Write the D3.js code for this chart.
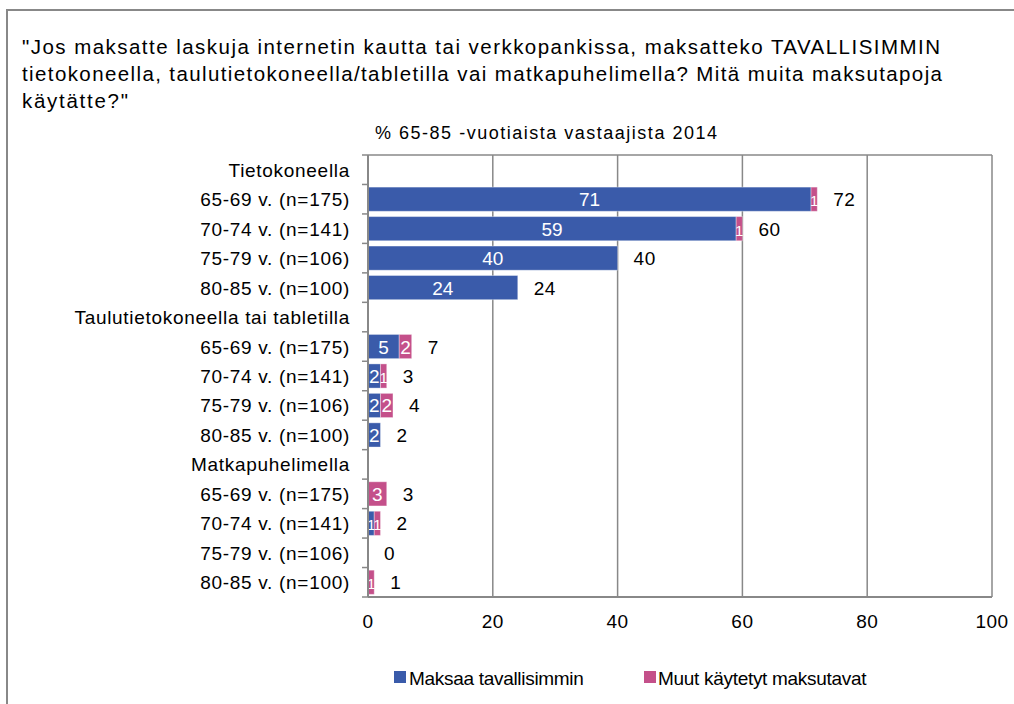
<!DOCTYPE html>
<html><head><meta charset="utf-8">
<script src="https://cdn.jsdelivr.net/npm/d3@7"></script>
<style>
body{margin:0;background:#fff;}
text{font-family:"Liberation Sans",Arial,sans-serif;}
</style></head>
<body>
<svg id="c" width="1014" height="704"></svg>
<script>
const titleLines = ["\"Jos maksatte laskuja internetin kautta tai verkkopankissa, maksatteko TAVALLISIMMIN",
  "tietokoneella, taulutietokoneella/tabletilla vai matkapuhelimella? Mitä muita maksutapoja",
  "käytätte?\""];
const subtitle = "% 65-85 -vuotiaista vastaajista 2014";
const categories = ["Tietokoneella","65-69 v. (n=175)","70-74 v. (n=141)","75-79 v. (n=106)","80-85 v. (n=100)",
  "Taulutietokoneella tai tabletilla","65-69 v. (n=175)","70-74 v. (n=141)","75-79 v. (n=106)","80-85 v. (n=100)",
  "Matkapuhelimella","65-69 v. (n=175)","70-74 v. (n=141)","75-79 v. (n=106)","80-85 v. (n=100)"];
const isHeader = [true,false,false,false,false,true,false,false,false,false,true,false,false,false,false];
const maksaa = [null,71,59,40,24,null,5,2,2,2,null,0,1,0,0];
const muut   = [null,1,1,0,0,null,2,1,2,0,null,3,1,0,1];
const totals = [null,72,60,40,24,null,7,3,4,2,null,3,2,0,1];
const xTicks = [0,20,40,60,80,100];
const seriesNames = ["Maksaa tavallisimmin","Muut käytetyt maksutavat"];
const colors = ["#3A5BAA","#C4508A"];

const svg = d3.select("#c");
svg.append("path").attr("d","M7,1400 V10 H1100").attr("fill","none").attr("stroke","#888").attr("stroke-width",2);

const tl = [[22,54,918],[22,81,920],[22,108,106]];
titleLines.forEach((t,i)=>{
  svg.append("text").attr("x",tl[i][0]).attr("y",tl[i][1]).attr("font-size",20.5)
    .attr("textLength",tl[i][2]).attr("lengthAdjust","spacing").attr("fill","#000").text(t);
});
svg.append("text").attr("x",546).attr("y",139).attr("text-anchor","middle").attr("font-size",18)
  .attr("textLength",342).attr("lengthAdjust","spacing").text(subtitle);

const L=368, R=992, T=155, B=597;
const x = d3.scaleLinear().domain([0,100]).range([L,R]);
const y = d3.scaleBand().domain(d3.range(categories.length)).range([T,B]).paddingInner(0.18).paddingOuter(0.09);

svg.append("g").selectAll("line").data(xTicks.slice(1)).join("line")
  .attr("x1",d=>x(d)).attr("x2",d=>x(d)).attr("y1",T).attr("y2",B)
  .attr("stroke","#888").attr("stroke-width",1.5);
svg.append("line").attr("x1",L).attr("x2",R).attr("y1",T).attr("y2",T).attr("stroke","#888").attr("stroke-width",1.5);

const rows = d3.range(categories.length).filter(i=>!isHeader[i]);
rows.forEach(i=>{
  const segs=[{v:maksaa[i],s:0,c:colors[0]},{v:muut[i],s:maksaa[i],c:colors[1]}];
  segs.forEach(sg=>{
    if(!sg.v) return;
    const w = x(sg.s+sg.v)-x(sg.s);
    svg.append("rect").attr("x",x(sg.s)).attr("y",y(i)).attr("width",w).attr("height",y.bandwidth())
      .attr("fill",sg.c).attr("stroke","#ffffff").attr("stroke-opacity",0.35).attr("stroke-width",1);
    svg.append("text").attr("x",(x(sg.s)+x(sg.s+sg.v))/2).attr("y",y(i)+y.bandwidth()/2+7)
      .attr("text-anchor","middle").attr("font-size",w<8?15:19).attr("fill","#fff").text(sg.v);
  });
  svg.append("text").attr("x",x(totals[i])+16).attr("y",y(i)+y.bandwidth()/2+7)
    .attr("font-size",19).attr("letter-spacing",0.5).attr("fill","#000").text(totals[i]);
});

svg.append("line").attr("x1",L).attr("x2",L).attr("y1",T).attr("y2",B).attr("stroke","#888").attr("stroke-width",2);
svg.append("line").attr("x1",L).attr("x2",R).attr("y1",B).attr("y2",B).attr("stroke","#888").attr("stroke-width",2);
d3.range(categories.length+1).forEach(k=>{
  const yy = T + (B-T)*k/categories.length;
  svg.append("line").attr("x1",L-6).attr("x2",L).attr("y1",yy).attr("y2",yy).attr("stroke","#888").attr("stroke-width",1.5);
});
categories.forEach((c,i)=>{
  const cy = T + (B-T)*(i+0.5)/categories.length;
  svg.append("text").attr("x",350).attr("y",cy+7).attr("text-anchor","end").attr("font-size",19)
    .attr("letter-spacing",0.7).attr("fill","#000").text(c);
});
xTicks.forEach(t=>{
  svg.append("text").attr("x",x(t)).attr("y",628).attr("text-anchor","middle").attr("font-size",19)
    .attr("letter-spacing",0.5).text(t);
});

const lg=[[394,409],[644,658]];
seriesNames.forEach((n,i)=>{
  svg.append("rect").attr("x",lg[i][0]).attr("y",671).attr("width",12).attr("height",12).attr("fill",colors[i]);
  svg.append("text").attr("x",lg[i][1]).attr("y",685).attr("font-size",19).attr("letter-spacing",-0.3).text(n);
});
</script>
</body></html>
